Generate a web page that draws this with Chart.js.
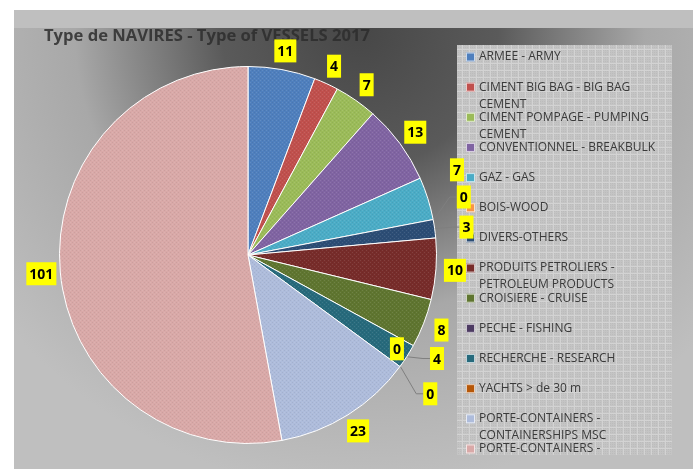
<!DOCTYPE html>
<html>
<head>
<meta charset="utf-8">
<script src="https://cdn.jsdelivr.net/npm/chart.js@4"></script>
<style>
    html, body { margin: 0; padding: 0; background: #fff; }
    canvas { display: block; }
</style>
</head>
<body>
<canvas id="vessels" width="693" height="469"></canvas>
<script>
const chartTitle = 'Type de NAVIRES - Type of VESSELS 2017';

const vesselTypes = [
    'ARMEE - ARMY',
    'CIMENT BIG BAG - BIG BAG CEMENT',
    'CIMENT POMPAGE - PUMPING CEMENT',
    'CONVENTIONNEL - BREAKBULK',
    'GAZ - GAS',
    'BOIS-WOOD',
    'DIVERS-OTHERS',
    'PRODUITS PETROLIERS - PETROLEUM PRODUCTS',
    'CROISIERE - CRUISE',
    'PECHE - FISHING',
    'RECHERCHE - RESEARCH',
    'YACHTS > de 30 m',
    'PORTE-CONTAINERS - CONTAINERSHIPS MSC',
    'PORTE-CONTAINERS - CONTAINERSHIPS'
];

const vesselCounts = [11, 4, 7, 13, 7, 0, 3, 10, 8, 0, 4, 0, 23, 101];

const sliceColors = [
    '#4f7fbd', '#c0504d', '#9bbb59', '#8064a2', '#4bacc6', '#f79646', '#2c4d75',
    '#772c2a', '#5f7530', '#4d3b62', '#276a7c', '#b65708', '#aebcdb', '#d9a9a8'
];

// hand nudges for the crowded labels (dx, dy, leader line)
const labelNudge = {
    4: { dx: 11, dy: -23 },
    5: { dx: 12, dy: -19, leader: true },
    6: { dx: 13, dy: 1, leader: true },
    9: { dx: -33, dy: -6 },
    10: { dx: 14, dy: -8, leader: true },
    11: { dx: 15, dy: 16, leader: true }
};

function slicePattern(color) {
    const c = document.createElement('canvas');
    c.width = 4;
    c.height = 4;
    const g = c.getContext('2d');
    g.fillStyle = color;
    g.fillRect(0, 0, 4, 4);
    g.fillStyle = 'rgba(255,255,255,0.10)';
    g.fillRect(0, 0, 1, 1);
    g.fillRect(2, 2, 1, 1);
    g.fillStyle = 'rgba(0,0,0,0.06)';
    g.fillRect(2, 0, 1, 1);
    g.fillRect(0, 2, 1, 1);
    return g.createPattern(c, 'repeat');
}

function legendPattern() {
    const c = document.createElement('canvas');
    c.width = 7;
    c.height = 7;
    const g = c.getContext('2d');
    g.fillStyle = '#c4c4c4';
    g.fillRect(0, 0, 7, 7);
    g.fillStyle = '#bcbcbc';
    for (let y = 1; y < 7; y += 2) {
        for (let x = 1; x < 7; x += 2) g.fillRect(x, y, 1, 1);
    }
    g.fillStyle = '#d3d3d3';
    g.fillRect(0, 0, 7, 1);
    g.fillRect(0, 0, 1, 7);
    return g.createPattern(c, 'repeat');
}

function wrapText(ctx, text, maxWidth) {
    const words = text.split(' ');
    const lines = [];
    let line = '';
    words.forEach(w => {
        const test = line ? line + ' ' + w : w;
        if (ctx.measureText(test).width > maxWidth && line) {
            lines.push(line);
            line = w;
        } else {
            line = test;
        }
    });
    if (line) lines.push(line);
    return lines;
}

const backgroundPlugin = {
    id: 'background',
    beforeDraw(chart) {
        const ctx = chart.ctx;
        ctx.save();
        ctx.fillStyle = '#ffffff';
        ctx.fillRect(0, 0, chart.width, chart.height);

        const grad = ctx.createRadialGradient(360, 30, 0, 360, 30, 460);
        grad.addColorStop(0, '#474747');
        grad.addColorStop(0.3, '#5a5a5a');
        grad.addColorStop(0.62, '#a8a8a8');
        grad.addColorStop(1, '#bfbfbf');
        ctx.fillStyle = grad;
        ctx.fillRect(14, 10, chart.width - 14, chart.height - 10);

        ctx.fillStyle = '#bfbfbf';
        ctx.fillRect(14, 10, chart.width - 14, 18);

        ctx.font = 'bold 16.6px "Open Sans"';
        ctx.fillStyle = 'rgba(45,45,45,0.85)';
        ctx.textBaseline = 'middle';
        ctx.fillText(chartTitle, 44, 36);
        ctx.restore();
    }
};

const legendPlugin = {
    id: 'sideLegend',
    afterDatasetsDraw(chart) {
        const ctx = chart.ctx;
        const box = { x: 457, y: 45, w: 215, h: 410 };
        ctx.save();
        ctx.fillStyle = legendPattern();
        ctx.fillRect(box.x, box.y, box.w, box.h);
        ctx.beginPath();
        ctx.rect(box.x, box.y, box.w, box.h);
        ctx.clip();

        ctx.font = '12px "Open Sans"';
        ctx.textBaseline = 'middle';
        chart.data.labels.forEach((label, i) => {
            const cy = 57 + i * 30.15;
            ctx.fillStyle = sliceColors[i];
            ctx.fillRect(466, cy - 4.5, 9, 9);
            ctx.strokeStyle = 'rgba(255,255,255,0.7)';
            ctx.lineWidth = 1;
            ctx.strokeRect(466.5, cy - 4, 8, 8);
            ctx.fillStyle = '#3a3a3a';
            wrapText(ctx, label, 188).forEach((line, k) => {
                ctx.fillText(line, 479, cy + k * 17);
            });
        });
        ctx.restore();
    }
};

const valueLabelPlugin = {
    id: 'valueLabels',
    afterDraw(chart) {
        const ctx = chart.ctx;
        const meta = chart.getDatasetMeta(0);
        ctx.save();
        ctx.font = 'bold 14px "Open Sans"';
        ctx.textAlign = 'center';
        ctx.textBaseline = 'middle';
        meta.data.forEach((arc, i) => {
            const mid = (arc.startAngle + arc.endAngle) / 2;
            const r = arc.outerRadius + 19;
            const nudge = labelNudge[i] || { dx: 0, dy: 0 };
            const x = arc.x + Math.cos(mid) * r + nudge.dx;
            const y = arc.y + Math.sin(mid) * r + nudge.dy;
            const text = String(chart.data.datasets[0].data[i]);
            const w = ctx.measureText(text).width + 6;
            const h = 23;

            if (nudge.leader) {
                const ex = arc.x + Math.cos(mid) * (arc.outerRadius + 1);
                const ey = arc.y + Math.sin(mid) * (arc.outerRadius + 1);
                const left = x - w / 2;
                ctx.strokeStyle = '#7f7f7f';
                ctx.lineWidth = 1;
                ctx.beginPath();
                ctx.moveTo(ex, ey);
                ctx.lineTo(left - 7, y);
                ctx.lineTo(left, y);
                ctx.stroke();
            }

            ctx.fillStyle = '#ffff00';
            ctx.fillRect(x - w / 2, y - h / 2, w, h);
            ctx.fillStyle = '#000000';
            ctx.fillText(text, x, y + 1);
        });
        ctx.restore();
    }
};

new Chart(document.getElementById('vessels'), {
    type: 'pie',
    data: {
        labels: vesselTypes,
        datasets: [{
            data: vesselCounts,
            backgroundColor: sliceColors.map(slicePattern),
            borderColor: '#ffffff',
            borderWidth: 1
        }]
    },
    options: {
        responsive: false,
        animation: false,
        devicePixelRatio: 1,
        layout: {
            padding: { left: 59, top: 66, right: 256, bottom: 25 }
        },
        plugins: {
            legend: { display: false },
            title: { display: false },
            tooltip: { enabled: false }
        }
    },
    plugins: [backgroundPlugin, legendPlugin, valueLabelPlugin]
});
</script>
</body>
</html>
